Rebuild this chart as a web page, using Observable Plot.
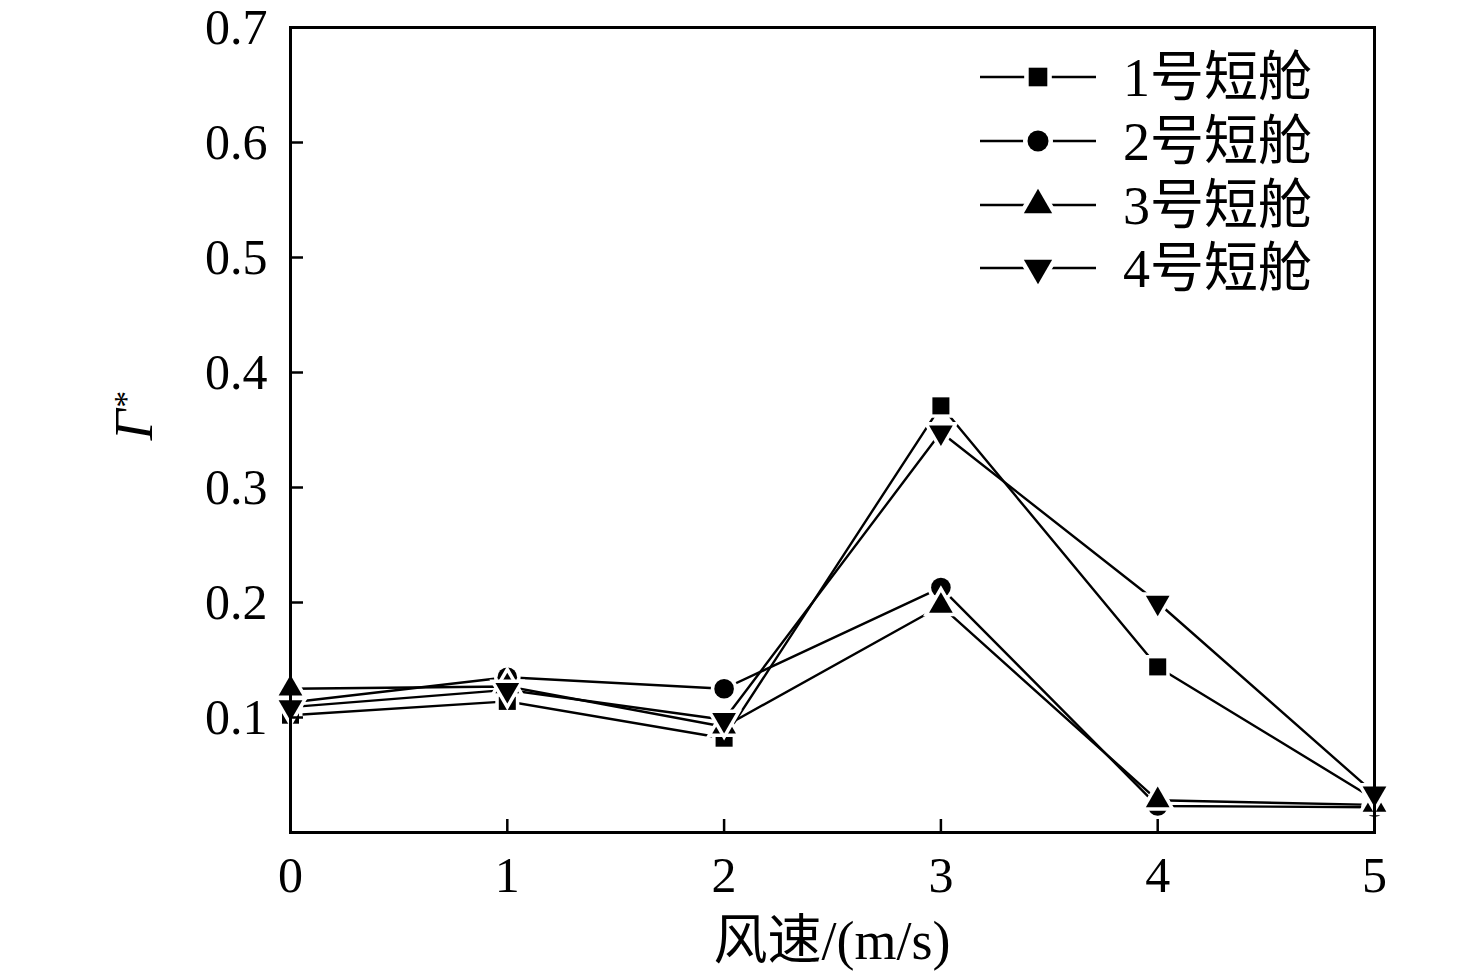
<!DOCTYPE html>
<html>
<head>
<meta charset="utf-8">
<script src="https://cdn.jsdelivr.net/npm/d3@7"></script>
<script src="https://cdn.jsdelivr.net/npm/@observablehq/plot@0.6"></script>
<style>
  html, body { margin: 0; padding: 0; background: #fff; }
  #chart { width: 1476px; height: 980px; }
</style>
</head>
<body>
<div id="chart"></div>
<script>
// ---- data ----
const windSpeed = [0, 1, 2, 3, 4, 5];
const seriesNames = ["1号短舱", "2号短舱", "3号短舱", "4号短舱"];
const nacelle1 = [0.102, 0.114, 0.082, 0.371, 0.144, 0.029];
const nacelle2 = [0.113, 0.135, 0.125, 0.213, 0.023, 0.022];
const nacelle3 = [0.125, 0.127, 0.092, 0.197, 0.028, 0.024];
const nacelle4 = [0.109, 0.124, 0.098, 0.348, 0.200, 0.034];
const xTicks = [0, 1, 2, 3, 4, 5];
const yTicks = [0.1, 0.2, 0.3, 0.4, 0.5, 0.6, 0.7];
const xLabel = "风速/(m/s)";
const yLabelMain = "Γ";
const yLabelSup = "*";

// ---- symbols ----
const triangleDown = {
  draw(context, size) {
    const y = -Math.sqrt(size / (Math.sqrt(3) * 3));
    context.moveTo(0, -y * 2);
    context.lineTo(-Math.sqrt(3) * y, y);
    context.lineTo(Math.sqrt(3) * y, y);
    context.closePath();
  }
};
const symbols = [d3.symbolSquare, d3.symbolCircle, d3.symbolTriangle, triangleDown];
const symbolNames = ["square", "circle", "triangle", triangleDown];
const radii = [9.6, 9.8, 8.8, 8.8];

const allValues = [nacelle1, nacelle2, nacelle3, nacelle4];
const data = [];
allValues.forEach((vals, i) => {
  vals.forEach((v, j) => data.push({series: seriesNames[i], x: windSpeed[j], y: v}));
});

const FONT = "'Liberation Serif', 'Times New Roman', 'Noto Sans CJK SC', serif";

const marks = [
  Plot.line(data, {x: "x", y: "y", z: "series", stroke: "black", strokeWidth: 2.4})
];
seriesNames.forEach((name, i) => {
  marks.push(Plot.dot(data.filter(d => d.series === name), {
    x: "x", y: "y", r: radii[i], symbol: symbolNames[i],
    fill: "black", stroke: "white", strokeWidth: 7, paintOrder: "stroke"
  }));
});
marks.push(
  Plot.frame({stroke: "black", strokeWidth: 3}),
  // inward ticks
  Plot.axisY(yTicks, {anchor: "left", tickSize: 13, dx: 13, tickFormat: () => "", strokeWidth: 2.5}),
  Plot.axisX(xTicks, {anchor: "bottom", tickSize: 13, dy: -13, tickFormat: () => "", strokeWidth: 2.5}),
  // labels
  Plot.axisY(yTicks, {anchor: "left", tickSize: 0, tickPadding: 23, tickFormat: d => d.toFixed(1), label: null}),
  Plot.axisX(xTicks, {anchor: "bottom", tickSize: 0, tickPadding: 24, tickFormat: d => String(d), label: null})
);

const chart = Plot.plot({
  width: 1476,
  height: 980,
  marginLeft: 290,
  marginRight: 102,
  marginTop: 27,
  marginBottom: 148,
  style: {fontSize: "50px", fontFamily: FONT, background: "white", color: "black"},
  x: {domain: [0, 5], label: null},
  y: {domain: [0, 0.7], label: null},
  marks
});
document.getElementById("chart").appendChild(chart);

// ---- axis titles and legend ----
const svg = d3.select(chart);
const xs = chart.scale("x"), ys = chart.scale("y");
const xMid = (xs.range[0] + xs.range[1]) / 2;
const yTop = ys.range[1], yBottom = ys.range[0];

svg.append("text")
  .attr("x", xMid).attr("y", yBottom + 127)
  .attr("text-anchor", "middle")
  .style("font-family", FONT).style("font-size", "54px")
  .text(xLabel);

const yl = svg.append("text")
  .attr("transform", `translate(152,${(yTop + yBottom) / 2 - 14}) rotate(-90)`)
  .attr("text-anchor", "middle")
  .style("font-family", FONT).style("font-size", "54px");
yl.append("tspan").style("font-style", "italic").text(yLabelMain);
yl.append("tspan").attr("dy", "-0.45em").attr("dx", "0.05em").style("font-size", "34px").text(yLabelSup);

const legend = svg.append("g").attr("text-anchor", "start");
const rowY = [77, 141, 205, 268];
seriesNames.forEach((name, i) => {
  const g = legend.append("g").attr("transform", `translate(0,${rowY[i]})`);
  g.append("line").attr("x1", 980).attr("x2", 1096).attr("y1", 0).attr("y2", 0)
    .attr("stroke", "black").attr("stroke-width", 2.4);
  g.append("path")
    .attr("transform", "translate(1038,0)")
    .attr("d", d3.symbol(symbols[i], Math.PI * 10.5 * 10.5)())
    .attr("fill", "black").attr("stroke", "white").attr("stroke-width", 9)
    .attr("paint-order", "stroke");
  g.append("text").attr("x", 1123).attr("y", 0).attr("dy", "0.36em")
    .attr("text-anchor", "start")
    .style("font-family", FONT).style("font-size", "54px")
    .text(name);
});
</script>
</body>
</html>
